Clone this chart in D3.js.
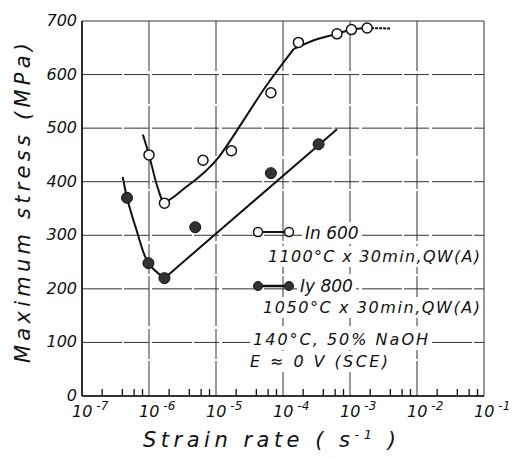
<!DOCTYPE html>
<html>
<head>
<meta charset="utf-8">
<script src="https://cdn.jsdelivr.net/npm/d3@7"></script>
<style>
  body { margin: 0; background: #fff; }
  svg text { font-family: "DejaVu Sans", sans-serif; font-style: italic; fill: #111; }
</style>
</head>
<body>
<svg id="chart" width="524" height="459"></svg>
<script>
(function () {
'use strict';

// --- data ---
var yTicks = [0, 100, 200, 300, 400, 500, 600, 700];
var xDecades = [-7, -6, -5, -4, -3, -2, -1];
var minorMult = [2, 4, 6, 8];

// In 600 : measured points (open circles)
var in600Rate = [1.0e-6, 1.7e-6, 6.4e-6, 1.7e-5, 6.6e-5, 1.7e-4, 6.4e-4, 1.05e-3, 1.8e-3];
var in600Stress = [450, 360, 440, 458, 566, 660, 676, 684, 687];
// In 600 : drawn trend curve (rising branch, then plateau branch)
var in600CurveRate = [8.1e-7, 1.0e-6, 1.38e-6, 1.69e-6, 3.65e-6, 7.3e-6, 1.1e-5, 5.7e-5, 1.45e-4];
var in600CurveStress = [488, 450, 385, 363, 391, 422, 446, 580, 648];
var in600PlateauRate = [1.45e-4, 3.2e-4, 6.4e-4, 1.05e-3, 1.8e-3];
var in600PlateauStress = [648, 666, 676, 684, 687];
var in600TailRate = [1.8e-3, 4.0e-3];
var in600TailStress = [687, 686];

// Iy 800 : measured points (filled circles)
var iy800Rate = [4.7e-7, 9.8e-7, 1.7e-6, 4.9e-6, 6.6e-5, 3.4e-4];
var iy800Stress = [370, 248, 220, 315, 416, 470];
// Iy 800 : drawn trend curve (curved branch, then straight branch)
var iy800CurveRate = [4.05e-7, 4.7e-7, 6.5e-7, 9.8e-7, 1.7e-6];
var iy800CurveStress = [409, 370, 310, 248, 220];
var iy800LineRate = [1.7e-6, 6.4e-4];
var iy800LineStress = [220, 498];

var legendLines = [
	"1100°C x 30min,QW(A)",
	"1050°C x 30min,QW(A)",
	"140°C, 50% NaOH",
	"E ≈ 0 V (SCE)"
];

// --- layout ---
var svg = d3.select("#chart");
var left = 82, right = 484, top = 21, bottom = 396;

var x = d3.scaleLog().domain([1e-7, 1e-1]).range([left, right]);
var y = d3.scaleLinear().domain([0, 700]).range([bottom, top]);

var zip = function(a, b){ return a.map(function(v, i){ return [v, b[i]]; }); };

// grid
var grid = svg.append("g").attr("stroke", "#333").attr("stroke-width", 1);
yTicks.forEach(function(t){
	grid.append("line")
		.attr("x1", left).attr("x2", right)
		.attr("y1", y(t)).attr("y2", y(t))
		.attr("stroke-dasharray", t === 0 || t === 700 ? null : "40,2,25,3");
});
xDecades.forEach(function(d){
	grid.append("line")
		.attr("x1", x(Math.pow(10, d))).attr("x2", x(Math.pow(10, d)))
		.attr("y1", top).attr("y2", bottom)
		.attr("stroke-dasharray", d === -7 || d === -1 ? null : "50,3,30,2");
});
svg.append("line").attr("x1", left).attr("x2", left).attr("y1", top).attr("y2", bottom)
	.attr("stroke", "#111").attr("stroke-width", 1.6);
svg.append("line").attr("x1", left).attr("x2", right).attr("y1", bottom).attr("y2", bottom)
	.attr("stroke", "#111").attr("stroke-width", 1.6);

// minor ticks on bottom
xDecades.slice(0, -1).forEach(function(d){
	minorMult.forEach(function(m){
		var xv = x(m * Math.pow(10, d));
		svg.append("line").attr("x1", xv).attr("x2", xv)
			.attr("y1", bottom).attr("y2", bottom - 7)
			.attr("stroke", "#111").attr("stroke-width", 1.3);
	});
});

// y tick labels
svg.append("g").selectAll("text").data(yTicks).enter().append("text")
	.attr("x", left - 5)
	.attr("y", function(d){ return y(d) + 5; })
	.attr("text-anchor", "end")
	.attr("font-size", 16)
	.text(function(d){ return d; });

// x tick labels 10^n
xDecades.forEach(function(d){
	var t = svg.append("text")
		.attr("x", x(Math.pow(10, d)) - 10)
		.attr("y", 417)
		.attr("font-size", 16);
	t.append("tspan").text("10");
	t.append("tspan").attr("dx", 4).attr("dy", -7).attr("font-size", 12).text("-" + (-d));
});

// axis titles
svg.append("text")
	.attr("transform", "translate(30,203) rotate(-90)")
	.attr("text-anchor", "middle")
	.attr("font-size", 21)
	.attr("textLength", 320)
	.attr("lengthAdjust", "spacing")
	.text("Maximum  stress  (MPa)");

var xt = svg.append("text")
	.attr("x", 143).attr("y", 447)
	.attr("font-size", 21)
	.attr("letter-spacing", 4.5);
xt.append("tspan").text("Strain rate ( s");
xt.append("tspan").attr("dy", -8).attr("font-size", 13).text("-1");
xt.append("tspan").attr("dy", 8).text(" )");

// legend text on white boxes to knock out the grid
var legend = svg.append("g");
var legendText = [
	{x: 305, y: 239, size: 17, len: null, text: "In 600"},
	{x: 268, y: 262, size: 16, len: 212, text: legendLines[0]},
	{x: 300, y: 292, size: 17, len: null, text: "Iy 800"},
	{x: 263, y: 313, size: 16, len: 217, text: legendLines[1]},
	{x: 253, y: 345, size: 16, len: 175, text: legendLines[2]},
	{x: 250, y: 367, size: 16, len: 138, text: legendLines[3]}
];
legendText.forEach(function(l){
	var box = legend.append("rect").attr("fill", "#fff");
	var t = legend.append("text").attr("x", l.x).attr("y", l.y).attr("font-size", l.size).text(l.text);
	if(l.len) t.attr("textLength", l.len).attr("lengthAdjust", "spacing");
	var bb = t.node().getBBox();
	box.attr("x", bb.x - 3).attr("y", bb.y - 1).attr("width", bb.width + 6).attr("height", bb.height + 2);
});

// curves
var line = d3.line()
	.x(function(d){ return x(d[0]); })
	.y(function(d){ return y(d[1]); })
	.curve(d3.curveCatmullRom.alpha(0.5));
var straight = d3.line()
	.x(function(d){ return x(d[0]); })
	.y(function(d){ return y(d[1]); });

svg.append("path").datum(zip(in600CurveRate, in600CurveStress))
	.attr("d", line).attr("fill", "none").attr("stroke", "#111").attr("stroke-width", 2);
svg.append("path").datum(zip(in600PlateauRate, in600PlateauStress))
	.attr("d", line).attr("fill", "none").attr("stroke", "#111").attr("stroke-width", 2);
svg.append("path").datum(zip(in600TailRate, in600TailStress))
	.attr("d", straight)
	.attr("fill", "none").attr("stroke", "#111").attr("stroke-width", 2)
	.attr("stroke-dasharray", "3,1");
svg.append("path").datum(zip(iy800CurveRate, iy800CurveStress))
	.attr("d", line).attr("fill", "none").attr("stroke", "#111").attr("stroke-width", 2);
svg.append("path").datum(zip(iy800LineRate, iy800LineStress))
	.attr("d", straight).attr("fill", "none").attr("stroke", "#111").attr("stroke-width", 2);

// markers
svg.append("g").selectAll("circle").data(zip(in600Rate, in600Stress)).enter().append("circle")
	.attr("cx", function(d){ return x(d[0]); })
	.attr("cy", function(d){ return y(d[1]); })
	.attr("r", 5)
	.attr("fill", "#fff").attr("stroke", "#111").attr("stroke-width", 1.5);

svg.append("g").selectAll("circle").data(zip(iy800Rate, iy800Stress)).enter().append("circle")
	.attr("cx", function(d){ return x(d[0]); })
	.attr("cy", function(d){ return y(d[1]); })
	.attr("r", 5.5)
	.attr("fill", "#333").attr("stroke", "#111").attr("stroke-width", 1);

// legend symbols
var sym = svg.append("g");
sym.append("line").attr("x1", 258).attr("x2", 289).attr("y1", 232).attr("y2", 232)
	.attr("stroke", "#111").attr("stroke-width", 2);
[258, 289].forEach(function(cx){
	sym.append("circle").attr("cx", cx).attr("cy", 232).attr("r", 4.5)
		.attr("fill", "#fff").attr("stroke", "#111").attr("stroke-width", 1.5);
});
sym.append("line").attr("x1", 258).attr("x2", 289).attr("y1", 286).attr("y2", 286)
	.attr("stroke", "#111").attr("stroke-width", 2.5);
[258, 289].forEach(function(cx){
	sym.append("circle").attr("cx", cx).attr("cy", 286).attr("r", 4.5)
		.attr("fill", "#333").attr("stroke", "#111").attr("stroke-width", 1);
});

}());
</script>
</body>
</html>
